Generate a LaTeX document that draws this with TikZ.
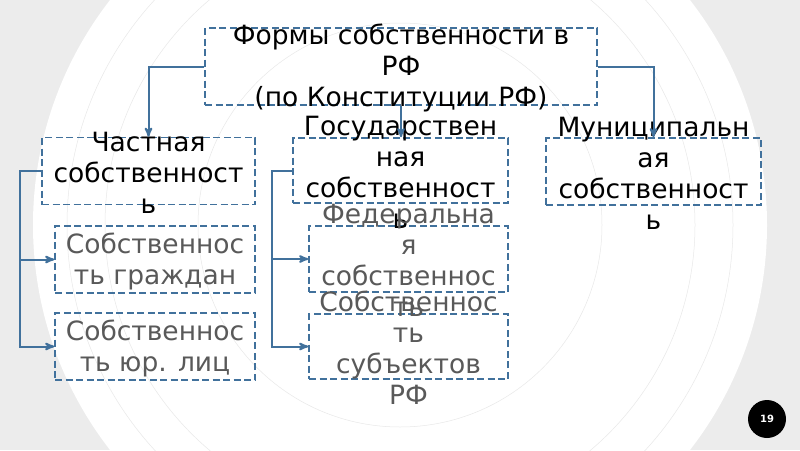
\documentclass[tikz,border=0pt]{standalone}
\usepackage{fontspec}
\setmainfont{DejaVu Sans}
\usepackage{tikz}
\usetikzlibrary{arrows}

\definecolor{bggray}{RGB}{236,236,236}
\definecolor{ringgray}{RGB}{232,232,232}
\definecolor{boxblue}{RGB}{65,113,156}
\definecolor{txtgray}{RGB}{89,89,89}

\begin{document}
\begin{tikzpicture}[x=1pt,y=-1pt,>=stealth',
    form/.style={draw=boxblue,line width=1.6pt,dash pattern=on 7pt off 3.5pt,inner sep=0pt},
    head/.style={font=\fontsize{26.5}{31}\selectfont,align=center,inner sep=0pt},
    sub/.style={head,text=txtgray},
    link/.style={draw=boxblue,line width=2pt,->}]
        \useasboundingbox (0,0) rectangle (800,450);
        \clip (0,0) rectangle (800,450);
        \fill[bggray] (0,0) rectangle (800,450);
        \fill[white] (400,225) circle[radius=367];
        \foreach \r in {202,295,333}
          \draw[ringgray,line width=0.5pt] (400,225) circle[radius=\r];

        \node[form,minimum width=392pt,minimum height=77pt] (forms) at (401,66.5) {};
        \node[form,minimum width=213pt,minimum height=67pt] (priv) at (148.5,171) {};
        \node[form,minimum width=215pt,minimum height=65pt] (state) at (400.5,170.5) {};
        \node[form,minimum width=215pt,minimum height=67pt] (munic) at (653.5,171.5) {};
        \node[form,minimum width=200pt,minimum height=67pt] (citiz) at (155,259.5) {};
        \node[form,minimum width=200pt,minimum height=67pt] (legal) at (155,346.5) {};
        \node[form,minimum width=199pt,minimum height=66pt] (fed) at (408.5,259) {};
        \node[form,minimum width=199pt,minimum height=65pt] (subj) at (408.5,346.5) {};

        \node[head] (formst) at ([yshift=-1.5pt]forms) {Формы собственности в\\РФ\\(по Конституции РФ)};
        \node[head] (privt) at ([yshift=-1.5pt]priv) {Частная\\собственност\\ь};
        \node[head] (statet) at ([yshift=-1.5pt]state) {Государствен\\ная\\собственност\\ь};
        \node[head] (munict) at ([yshift=-1.5pt]munic) {Муниципальн\\ая\\собственност\\ь};
        \node[sub] (citizt) at ([yshift=-1.5pt]citiz) {Собственнос\\ть граждан};
        \node[sub] (legalt) at ([yshift=-1.5pt]legal) {Собственнос\\ть юр. лиц};
        \node[sub] (fedt) at ([yshift=-1.5pt]fed) {Федеральна\\я\\собственнос\\ть};
        \node[sub] (subjt) at ([yshift=-1.5pt]subj) {Собственнос\\ть\\субъектов\\РФ};

        \draw[link] (forms.west) -| (priv.north);
        \draw[link] (forms.south) -- (forms.south |- state.north);
        \draw[link] (forms.east) -| (munic.north);
        \draw[link] (priv.west) -- ++(-21,0) |- (citiz.west);
        \draw[link] (priv.west) -- ++(-21,0) |- (legal.west);
        \draw[link] (state.west) -- ++(-20,0) |- (fed.west);
        \draw[link] (state.west) -- ++(-20,0) |- (subj.west);

        \node[circle,fill=black,minimum size=38pt,inner sep=0pt,text=white,
              font=\bfseries\fontsize{10}{12}\selectfont] (pagenum) at (767,419) {19};
\end{tikzpicture}
\end{document}
